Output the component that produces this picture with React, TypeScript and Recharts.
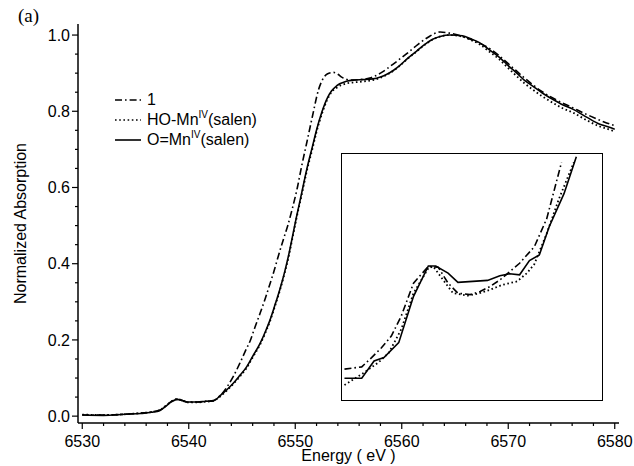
import React from "react";
import { LineChart, Line, XAxis, YAxis, Legend } from "recharts";

// main spectra, energy in eV, normalized absorption
const dashE = [
  6530, 6532, 6534, 6535.5, 6536.5, 6537.3, 6537.8, 6538.4, 6538.9, 6539.4, 6539.9, 6540.8, 6541.6, 6542.3,
  6543.0, 6543.6, 6544.2, 6544.8, 6545.3, 6545.8, 6546.2, 6546.7, 6547.2, 6547.6, 6548.0, 6548.4, 6548.9,
  6549.3, 6549.7, 6550.2, 6550.6, 6551.1, 6551.6, 6552.2, 6552.6, 6553.0, 6553.6, 6554.0, 6554.4, 6555.2,
  6556.0, 6557.0, 6558.0, 6559.2,
  6560.5, 6561.5, 6562.4, 6563.6, 6564.5, 6565.5, 6567.0, 6568.5, 6570.0, 6571.5, 6573.0, 6574.5, 6576.0,
  6577.5, 6579.0, 6580.0,
];
const dashA = [
  0.003, 0.003, 0.005, 0.008, 0.011, 0.016, 0.026, 0.039, 0.044, 0.041, 0.037, 0.037, 0.039, 0.041,
  0.055, 0.077, 0.105, 0.139, 0.17, 0.2, 0.232, 0.27, 0.31, 0.345, 0.38, 0.419, 0.465,
  0.5, 0.542, 0.6, 0.656, 0.72, 0.785, 0.858, 0.885, 0.898, 0.902, 0.897, 0.889, 0.882,
  0.883, 0.887, 0.9, 0.924,
  0.952, 0.975, 0.993, 1.008, 1.005, 0.998, 0.983, 0.96, 0.925, 0.888, 0.855, 0.83, 0.81,
  0.79, 0.772, 0.762,
];

const edgeE = [
  6530, 6532, 6534, 6535.5, 6536.5, 6537.3, 6537.8, 6538.4, 6538.9, 6539.4, 6539.9, 6540.8, 6541.6, 6542.3,
  6543.0, 6543.6, 6544.2, 6544.8, 6545.4, 6546.0, 6546.7, 6547.2, 6547.6, 6548.1, 6548.6, 6549.0, 6549.4,
  6549.7, 6550.1, 6550.6, 6551.1, 6551.6, 6552.0, 6552.5, 6553.0, 6553.4, 6553.9, 6554.8, 6555.6, 6556.3,
  6557.3, 6558.0, 6558.6,
  6559.2, 6559.8, 6560.6, 6561.4, 6562.2, 6562.9, 6563.7, 6564.5, 6565.7, 6566.5, 6567.3, 6568.2, 6569.2,
  6570.0, 6570.8, 6571.5, 6572.3, 6573.2, 6574.2, 6575.1, 6576.1, 6577.4, 6578.6, 6579.5, 6580.0,
];
const hoA = [
  0.004, 0.003, 0.005, 0.008, 0.011, 0.016, 0.026, 0.039, 0.045, 0.041, 0.036, 0.036, 0.038, 0.04,
  0.053, 0.068, 0.085, 0.104, 0.125, 0.154, 0.188, 0.219, 0.247, 0.289, 0.334, 0.375, 0.421,
  0.462, 0.517, 0.58, 0.645, 0.7, 0.746, 0.793, 0.83, 0.85, 0.862, 0.873, 0.876, 0.878,
  0.882, 0.888, 0.896,
  0.906, 0.919, 0.939, 0.957, 0.975, 0.988, 0.997, 1.0, 0.996, 0.987, 0.976, 0.957, 0.935,
  0.913, 0.892, 0.874, 0.857, 0.839, 0.822, 0.808, 0.796, 0.776, 0.76, 0.752, 0.747,
];
const oA = [
  0.003, 0.002, 0.005, 0.007, 0.01, 0.015, 0.025, 0.038, 0.044, 0.041, 0.037, 0.037, 0.039, 0.04,
  0.055, 0.07, 0.087, 0.107, 0.128, 0.157, 0.191, 0.222, 0.25, 0.292, 0.337, 0.378, 0.425,
  0.466, 0.521, 0.585, 0.65, 0.706, 0.751, 0.798, 0.834, 0.853, 0.867, 0.879, 0.882, 0.883,
  0.885, 0.89, 0.897,
  0.907, 0.92, 0.94, 0.958, 0.976, 0.989, 0.997, 1.0, 0.998, 0.99, 0.98, 0.962, 0.941,
  0.92, 0.9, 0.882, 0.866, 0.848, 0.831, 0.817, 0.805, 0.784, 0.766, 0.758, 0.753,
];

// inset: pre-edge region, enlarged
const insetDashE = [
  6535.6, 6536.3, 6536.7, 6537.1, 6537.5, 6537.9, 6538.4, 6539.0, 6539.4, 6539.8,
  6540.2, 6540.7, 6541.1, 6541.5, 6541.9, 6542.3, 6542.7, 6543.3, 6543.8, 6544.4,
];
const insetDashA = [
  0.0122, 0.0131, 0.0169, 0.0209, 0.0257, 0.0338, 0.0473, 0.0541, 0.0538, 0.0473,
  0.0432, 0.0426, 0.0439, 0.0459, 0.0486, 0.052, 0.0554, 0.0622, 0.0736, 0.0966,
];
const insetHoE = [
  6535.6, 6536.4, 6537.0, 6537.4, 6537.9, 6538.4, 6539.0, 6539.2, 6539.6, 6540.0,
  6540.6, 6541.0, 6541.5, 6542.0, 6542.6, 6543.0, 6543.3, 6543.8, 6544.3, 6544.9,
];
const insetHoA = [
  0.0057, 0.0108, 0.0151, 0.0189, 0.0284, 0.0432, 0.0534, 0.0541, 0.0486, 0.0432,
  0.0422, 0.043, 0.0446, 0.0466, 0.048, 0.0514, 0.0551, 0.0676, 0.0818, 0.0966,
];
const insetOE = [
  6535.6, 6536.3, 6536.8, 6537.2, 6537.8, 6538.4, 6539.0, 6539.3, 6539.8, 6540.2,
  6540.8, 6541.4, 6541.9, 6542.3, 6542.7, 6543.1, 6543.5, 6543.9, 6544.5, 6545.0,
];
const insetOA = [
  0.0085, 0.0085, 0.0155, 0.0169, 0.023, 0.0419, 0.0543, 0.0543, 0.0514, 0.0476,
  0.048, 0.0484, 0.0503, 0.0511, 0.0507, 0.0565, 0.0588, 0.0703, 0.0838, 0.0989,
];

const seriesNames = ["1", "HO-Mn^IV(salen)", "O=Mn^IV(salen)"];

const xTicks = [
  6530, 6532, 6534, 6536, 6538, 6540, 6542, 6544, 6546, 6548, 6550, 6552, 6554, 6556, 6558,
  6560, 6562, 6564, 6566, 6568, 6570, 6572, 6574, 6576, 6578, 6580,
];
const xMajor = [6530, 6540, 6550, 6560, 6570, 6580];
const yTicks = [
  0, 0.05, 0.1, 0.15, 0.2, 0.25, 0.3, 0.35, 0.4, 0.45, 0.5, 0.55, 0.6, 0.65, 0.7, 0.75, 0.8, 0.85, 0.9, 0.95, 1.0,
];
const yMajor = [0, 0.2, 0.4, 0.6, 0.8, 1.0];

const zip = (es: number[], as: number[]) => es.map((e, i) => ({ e, a: as[i] }));

const dashData = zip(dashE, dashA);
const hoData = zip(edgeE, hoA);
const oData = zip(edgeE, oA);

const xDomain = [6529.6, 6580.4];
const yDomain = [-0.018, 1.029];

const DASH_DOT = "7 3 1.6 3";
const DOTTED = "1.6 2.6";
const styles = [DASH_DOT, DOTTED, undefined];

const FONT = "'Liberation Sans', Arial, Helvetica, sans-serif";

const XTick = (props: any) => {
  const { x, y, payload } = props;
  const major = xMajor.includes(payload.value);
  const axisY = y - 8;
  return (
    <g>
      <line x1={x} x2={x} y1={axisY} y2={axisY + (major ? 6 : 3)} stroke="#000" strokeWidth={1.2} />
      {major && (
        <text x={x} y={axisY + 24} textAnchor="middle" fontSize={16} fill="#000">
          {payload.value}
        </text>
      )}
    </g>
  );
};

const YTick = (props: any) => {
  const { x, y, payload } = props;
  const major = yMajor.includes(payload.value);
  const axisX = x + 8;
  return (
    <g>
      <line x1={axisX} x2={axisX - (major ? 6 : 3)} y1={y} y2={y} stroke="#000" strokeWidth={1.2} />
      {major && (
        <text x={axisX - 8} y={y} dy="0.36em" textAnchor="end" fontSize={16} fill="#000">
          {payload.value.toFixed(1)}
        </text>
      )}
    </g>
  );
};

const renderName = (name: string) => {
  const m = name.match(/^(.*)\^(\w+)(.*)$/);
  if (!m) return name;
  return (
    <>
      {m[1]}
      <span style={{ fontSize: 10, position: "relative", top: -7 }}>{m[2]}</span>
      {m[3]}
    </>
  );
};

const LegendBox = () => (
  <div style={{ fontFamily: FONT, fontSize: 16, color: "#000" }}>
    {seriesNames.map((name, i) => (
      <div key={name} style={{ display: "flex", alignItems: "center", height: 20 }}>
        <svg width={26} height={20} style={{ marginRight: 6 }}>
          <line x1={0} x2={26} y1={10} y2={10} stroke="#000" strokeWidth={1.6} strokeDasharray={styles[i]} />
        </svg>
        <span style={{ whiteSpace: "nowrap" }}>{renderName(name)}</span>
      </div>
    ))}
  </div>
);

const App = () => {
  return (
    <div
      style={{
        position: "absolute",
        left: 0,
        top: 0,
        width: 634,
        height: 466,
        background: "#fff",
        fontFamily: FONT,
      }}
    >
      <div
        style={{
          position: "absolute",
          left: 18,
          top: 5,
          fontFamily: "'Liberation Serif', 'Times New Roman', serif",
          fontSize: 19,
        }}
      >
        (a)
      </div>
      <LineChart width={634} height={466} margin={{ top: 24, right: 15, bottom: 13, left: 30 }}>
        <XAxis
          dataKey="e"
          type="number"
          domain={xDomain}
          allowDataOverflow
          ticks={xTicks}
          interval={0}
          tickSize={6}
          tickMargin={2}
          tickLine={false}
          tick={<XTick />}
          height={30}
          axisLine={{ stroke: "#000", strokeWidth: 1.5 }}
          label={{
            content: (p: any) => (
              <text
                x={p.viewBox.x + p.viewBox.width / 2}
                y={p.viewBox.y + 38}
                textAnchor="middle"
                fontSize={16}
                fill="#000"
              >
                Energy ( eV )
              </text>
            ),
          }}
        />
        <XAxis
          xAxisId="top"
          orientation="top"
          type="number"
          domain={xDomain}
          allowDataOverflow
          tick={false}
          tickLine={false}
          height={0}
          axisLine={{ stroke: "#000", strokeWidth: 1.5 }}
        />
        <YAxis
          type="number"
          domain={yDomain}
          allowDataOverflow
          ticks={yTicks}
          interval={0}
          tickSize={6}
          tickMargin={2}
          tickLine={false}
          tick={<YTick />}
          width={48}
          axisLine={{ stroke: "#000", strokeWidth: 1.5 }}
          label={{
            content: (p: any) => {
              const cx = p.viewBox.x - 10;
              const cy = p.viewBox.y + p.viewBox.height / 2;
              return (
                <text
                  x={cx}
                  y={cy}
                  transform={`rotate(-90 ${cx} ${cy})`}
                  textAnchor="middle"
                  dominantBaseline="central"
                  fontSize={16}
                  fill="#000"
                >
                  Normalized Absorption
                </text>
              );
            },
          }}
        />
        <YAxis
          yAxisId="right"
          orientation="right"
          type="number"
          domain={yDomain}
          allowDataOverflow
          tick={false}
          tickLine={false}
          width={0}
          axisLine={{ stroke: "#000", strokeWidth: 1.5 }}
        />
        <Legend
          verticalAlign="middle"
          align="center"
          layout="horizontal"
          wrapperStyle={{ left: 115, top: 90, width: 220 }}
          content={() => <LegendBox />}
        />
        <Line
          data={dashData}
          dataKey="a"
          name={seriesNames[0]}
          type="monotone"
          stroke="#000"
          strokeWidth={1.6}
          strokeDasharray={DASH_DOT}
          dot={false}
          isAnimationActive={false}
        />
        <Line
          data={hoData}
          dataKey="a"
          name={seriesNames[1]}
          type="monotone"
          stroke="#000"
          strokeWidth={1.8}
          strokeDasharray={DOTTED}
          dot={false}
          isAnimationActive={false}
        />
        <Line
          data={oData}
          dataKey="a"
          name={seriesNames[2]}
          type="monotone"
          stroke="#000"
          strokeWidth={1.6}
          dot={false}
          isAnimationActive={false}
        />
      </LineChart>
      <div
        style={{
          position: "absolute",
          left: 341,
          top: 153,
          width: 262,
          height: 248,
          border: "1.5px solid #000",
          boxSizing: "border-box",
        }}
      >
        <LineChart width={259} height={245} margin={{ top: 0, right: 0, bottom: 0, left: 0 }}>
          <XAxis dataKey="e" type="number" domain={[6535.5, 6546]} allowDataOverflow hide />
          <YAxis type="number" domain={[0, 0.1]} allowDataOverflow hide />
          <Line
            data={zip(insetDashE, insetDashA)}
            dataKey="a"
            type="linear"
            stroke="#000"
            strokeWidth={1.6}
            strokeDasharray={DASH_DOT}
            dot={false}
            isAnimationActive={false}
          />
          <Line
            data={zip(insetHoE, insetHoA)}
            dataKey="a"
            type="linear"
            stroke="#000"
            strokeWidth={1.8}
            strokeDasharray={DOTTED}
            dot={false}
            isAnimationActive={false}
          />
          <Line
            data={zip(insetOE, insetOA)}
            dataKey="a"
            type="linear"
            stroke="#000"
            strokeWidth={1.6}
            dot={false}
            isAnimationActive={false}
          />
        </LineChart>
      </div>
    </div>
  );
};

export default App;
